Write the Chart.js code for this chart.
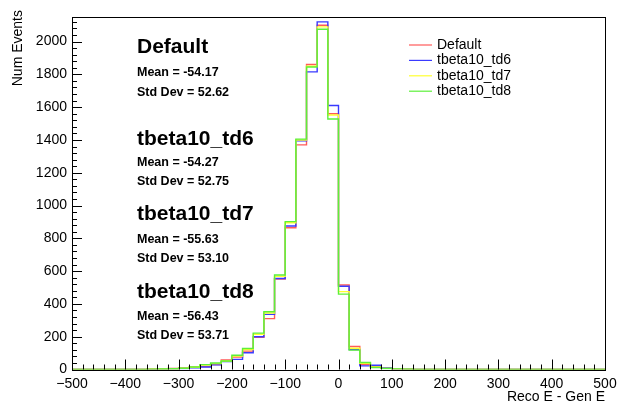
<!DOCTYPE html>
<html>
<head>
<meta charset="utf-8">
<script src="https://cdn.jsdelivr.net/npm/chart.js@4"></script>
<style>
  html, body { margin: 0; padding: 0; background: #fff; }
  #wrap { width: 617px; height: 403px; }
</style>
</head>
<body>
<div id="wrap"><canvas id="resChart" width="617" height="403"></canvas></div>
<script>
// ===============================
// DATA (20-unit bins, low edges)
// ===============================
const binLow = [
  -500, -480, -460, -440, -420, -400, -380, -360, -340, -320,
  -300, -280, -260, -240, -220, -200, -180, -160, -140, -120,
  -100, -80, -60, -40, -20, 0, 20, 40, 60, 80,
  100, 120, 140, 160, 180, 200, 220, 240, 260, 280,
  300, 320, 340, 360, 380, 400, 420, 440, 460, 480
];
const histHigh = 500;

const defaultCounts = [
  0, 0, 0, 1, 0, 1, 1, 2, 4, 6,
  9, 14, 18, 30, 58, 76, 112, 196, 310, 552,
  865, 1370, 1860, 2100, 1560, 515, 140, 30, 20, 8,
  4, 2, 1, 1, 0, 0, 0, 0, 0, 0,
  0, 0, 0, 0, 0, 0, 0, 0, 0, 0
];
const td6Counts = [
  0, 0, 0, 0, 1, 0, 1, 1, 3, 4,
  6, 10, 15, 28, 48, 62, 102, 200, 336, 555,
  875, 1395, 1815, 2120, 1610, 508, 122, 22, 26, 10,
  4, 2, 1, 1, 0, 0, 0, 0, 0, 0,
  0, 0, 0, 0, 0, 0, 0, 0, 0, 0
];
const td7Counts = [
  0, 0, 1, 0, 0, 1, 1, 2, 3, 5,
  8, 14, 27, 36, 52, 82, 122, 215, 345, 568,
  895, 1400, 1850, 2090, 1552, 475, 130, 38, 15, 7,
  4, 2, 1, 0, 0, 0, 0, 0, 0, 0,
  0, 0, 0, 0, 0, 0, 0, 0, 0, 0
];
const td8Counts = [
  0, 0, 0, 1, 0, 0, 1, 2, 3, 5,
  8, 15, 30, 40, 52, 87, 128, 222, 352, 576,
  902, 1405, 1845, 2075, 1528, 460, 118, 43, 12, 6,
  4, 2, 1, 0, 0, 0, 0, 0, 0, 0,
  0, 0, 0, 0, 0, 0, 0, 0, 0, 0
];

const seriesNames = ["Default", "tbeta10_td6", "tbeta10_td7", "tbeta10_td8"];
const seriesColors = ["#ff5a5a", "#3a3aff", "#ffff30", "#5cf03a"];
const seriesMeans = ["-54.17", "-54.27", "-55.63", "-56.43"];
const seriesStdDevs = ["52.62", "52.75", "53.10", "53.71"];

const xTickValues = [-500, -400, -300, -200, -100, 0, 100, 200, 300, 400, 500];
const yTickValues = [0, 200, 400, 600, 800, 1000, 1200, 1400, 1600, 1800, 2000];
const yMax = 2150;

const FONT = "'Liberation Sans', Arial, Helvetica, sans-serif";

// histogram -> step points (last bin closed at the upper edge)
function toSteps(counts) {
  const pts = binLow.map((x, i) => ({ x: x, y: counts[i] }));
  pts.push({ x: histHigh, y: counts[counts.length - 1] });
  return pts;
}

// ===============================
// FRAME, TICKS, STATS BOXES, LEGEND
// ===============================
const rootStyle = {
  id: "rootStyle",
  afterDatasetsDraw(chart) {
    const { ctx, chartArea: a, scales } = chart;
    const xs = scales.x, ys = scales.y;
    ctx.save();
    ctx.strokeStyle = "#000";
    ctx.lineWidth = 1;

    // frame
    ctx.strokeRect(Math.round(a.left) + 0.5, Math.round(a.top) + 0.5,
      Math.round(a.right - a.left), Math.round(a.bottom - a.top));

    // x ticks, pointing up from the bottom edge
    ctx.beginPath();
    for (let v = -500; v <= 500; v += 20) {
      const px = Math.round(xs.getPixelForValue(v)) + 0.5;
      const len = v % 100 === 0 ? 10 : 5;
      ctx.moveTo(px, a.bottom);
      ctx.lineTo(px, a.bottom - len);
    }
    // y ticks, pointing right from the left edge
    for (let v = 0; v <= yMax; v += 40) {
      const py = Math.round(ys.getPixelForValue(v)) + 0.5;
      const len = v % 200 === 0 ? 10 : 5;
      ctx.moveTo(a.left, py);
      ctx.lineTo(a.left + len, py);
    }
    ctx.stroke();

    // axis titles
    ctx.fillStyle = "#000";
    ctx.font = "14px " + FONT;
    ctx.textBaseline = "middle";
    ctx.textAlign = "right";
    ctx.fillText("Reco E - Gen E", a.right, 397);
    ctx.save();
    ctx.translate(18, 10);
    ctx.rotate(-Math.PI / 2);
    ctx.fillText("Num Events", 0, 0);
    ctx.restore();

    // per-sample stats text
    const statY = [[47, 73, 93], [139, 163, 182], [214, 240, 259], [292, 317, 336]];
    ctx.textAlign = "left";
    seriesNames.forEach((name, i) => {
      ctx.font = "bold 21px " + FONT;
      ctx.fillText(name, 137, statY[i][0]);
      ctx.font = "bold 12.5px " + FONT;
      ctx.fillText("Mean = " + seriesMeans[i], 137, statY[i][1]);
      ctx.fillText("Std Dev = " + seriesStdDevs[i], 137, statY[i][2]);
    });

    // legend
    ctx.font = "14px " + FONT;
    seriesNames.forEach((name, i) => {
      const y = 45 + i * 15.4;
      ctx.strokeStyle = seriesColors[i];
      ctx.lineWidth = 1.2;
      ctx.beginPath();
      ctx.moveTo(409, y);
      ctx.lineTo(432, y);
      ctx.stroke();
      ctx.fillStyle = "#000";
      ctx.fillText(name, 437, y);
    });
    ctx.restore();
  }
};

// ===============================
// CHART
// ===============================
const allCounts = [defaultCounts, td6Counts, td7Counts, td8Counts];

new Chart(document.getElementById("resChart"), {
  type: "line",
  data: {
    datasets: allCounts.map((counts, i) => ({
      label: seriesNames[i],
      data: toSteps(counts),
      borderColor: seriesColors[i],
      borderWidth: 1.4,
      stepped: true,
      pointRadius: 0,
      fill: false,
      order: allCounts.length - i
    }))
  },
  options: {
    responsive: false,
    animation: false,
    devicePixelRatio: 1,
    layout: { padding: { left: 0, top: 17, right: 12, bottom: 0 } },
    plugins: { legend: { display: false }, tooltip: { enabled: false } },
    scales: {
      x: {
        type: "linear",
        min: -500,
        max: 500,
        grid: { display: false, drawTicks: false },
        border: { display: false },
        afterBuildTicks: s => { s.ticks = xTickValues.map(v => ({ value: v })); },
        afterFit: s => { s.height = 33.5; s.paddingRight = 0; },
        ticks: {
          autoSkip: false,
          maxRotation: 0,
          padding: 6,
          color: "#000",
          font: { family: FONT, size: 14 },
          callback: v => (v < 0 ? "\u2212" + Math.abs(v) : String(v))
        }
      },
      y: {
        type: "linear",
        min: 0,
        max: yMax,
        grid: { display: false, drawTicks: false },
        border: { display: false },
        afterBuildTicks: s => { s.ticks = yTickValues.map(v => ({ value: v })); },
        afterFit: s => { s.width = 72; },
        ticks: {
          autoSkip: false,
          padding: 5,
          color: "#000",
          font: { family: FONT, size: 14 },
          callback: v => String(v)
        }
      }
    }
  },
  plugins: [rootStyle]
});
</script>
</body>
</html>
